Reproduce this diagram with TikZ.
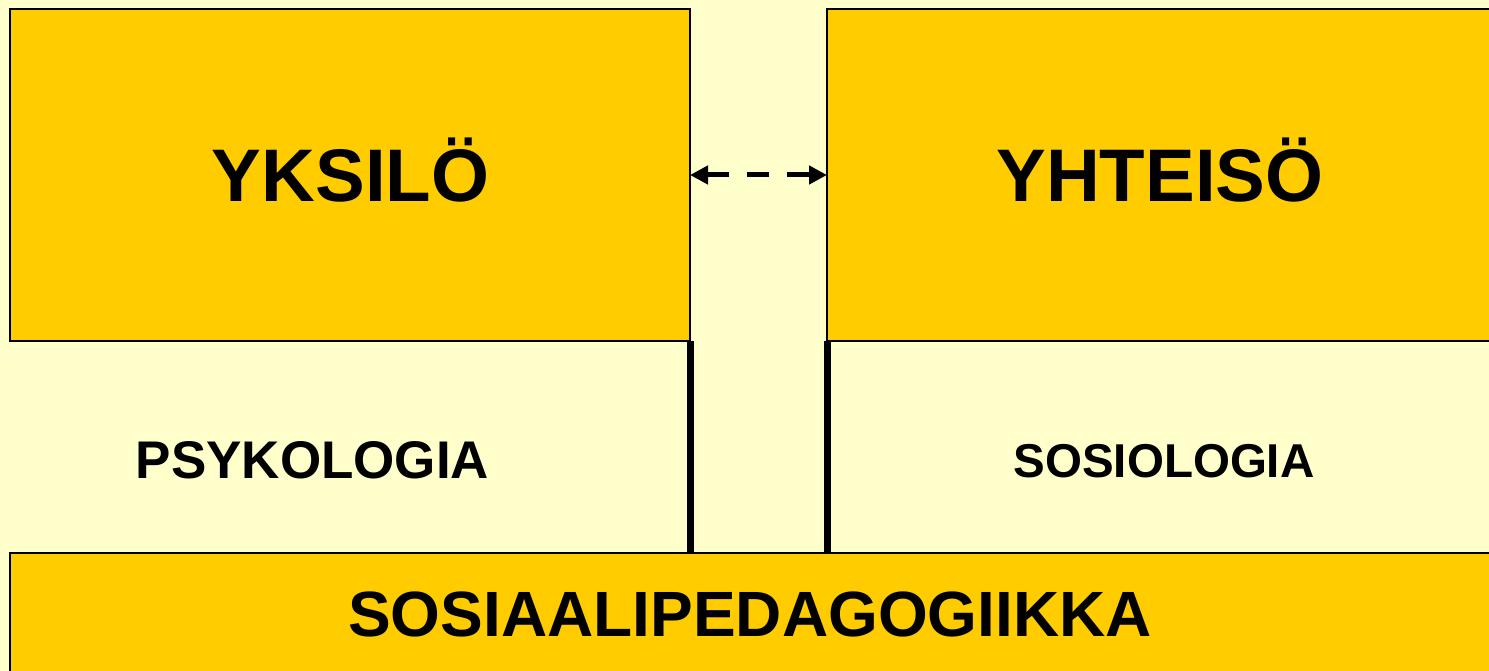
\documentclass[tikz,border=0pt]{standalone}
\usepackage{fontspec}
\setmainfont{Liberation Sans}
\usetikzlibrary{arrows.meta}
\definecolor{bgyellow}{HTML}{FFFFCC}
\definecolor{boxorange}{HTML}{FFCC00}
\tikzset{
  panel/.style={draw=black, line width=1.5pt, fill=boxorange, inner sep=0pt, outer sep=0pt},
  bigtext/.style={font=\fontsize{74.5}{80}\selectfont\bfseries, anchor=base, inner sep=0pt},
  midtext/.style={anchor=base, inner sep=0pt},
  divider/.style={line width=7pt},
  linkarrow/.style={line width=5pt, dash pattern=on 22pt off 18pt, {Triangle[length=18pt,width=18pt]}-{Triangle[length=18pt,width=18pt]}}
}
\begin{document}
\begin{tikzpicture}[x=1pt,y=-1pt]
\useasboundingbox (0,0) rectangle (1489,671);
\clip (0,0) rectangle (1489,671);
\fill[bgyellow] (0,0) rectangle (1489,671);
% boxes
\node[panel, minimum width=680pt, minimum height=332pt] (yksilo) at (350,175) {};
\node[panel, minimum width=680pt, minimum height=332pt] (yhteiso) at (1167,175) {};
\node[panel, minimum width=1500pt, minimum height=140pt] (sosped) at (760,623) {};
% dividers
\draw[divider] (yksilo.south east) -- (yksilo.south east |- sosped.north);
\draw[divider] (yhteiso.south west) -- (yhteiso.south west |- sosped.north);
% arrow
\draw[linkarrow] (yksilo.east) -- (yhteiso.west);
% texts
\node[bigtext] (t1) at (350.5,201.7) {YKSILÖ};
\node[bigtext] (t2) at (1160,201.7) {YHTEISÖ};
\node[midtext, font=\fontsize{53}{56}\selectfont\bfseries] (t3) at (312.5,478.7) {PSYKOLOGIA};
\node[midtext, font=\fontsize{47.5}{50}\selectfont\bfseries] (t4) at (1164,477.3) {SOSIOLOGIA};
\node[midtext, font=\fontsize{64}{68}\selectfont\bfseries] (t5) at (750,636.7) {SOSIAALIPEDAGOGIIKKA};
\end{tikzpicture}
\end{document}
